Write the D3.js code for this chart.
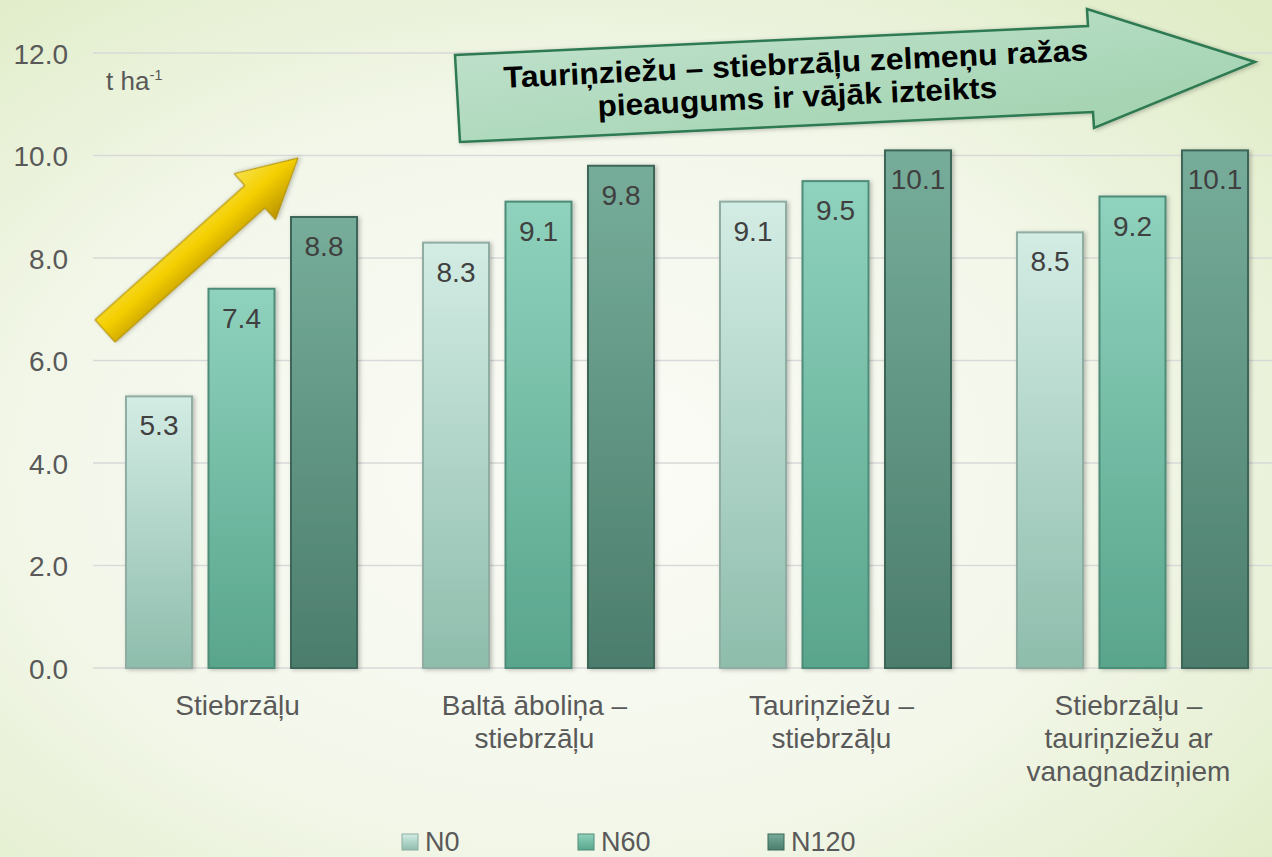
<!DOCTYPE html>
<html>
<head>
<meta charset="utf-8">
<script src="https://cdn.jsdelivr.net/npm/d3@7"></script>
<style>
  html, body { margin: 0; padding: 0; overflow: hidden; }
  svg { display: block; font-family: "Liberation Sans", Arial, sans-serif; }
</style>
</head>
<body>
<div id="chart"></div>
<script>
// chart data
const categories = [
    ['Stiebrzāļu'],
    ['Baltā āboliņa –', 'stiebrzāļu'],
    ['Tauriņziežu –', 'stiebrzāļu'],
    ['Stiebrzāļu –', 'tauriņziežu ar', 'vanagnadziņiem']
];
const seriesNames = ['N0', 'N60', 'N120'];
const n0 = [5.3, 8.3, 9.1, 8.5];
const n60 = [7.4, 9.1, 9.5, 9.2];
const n120 = [8.8, 9.8, 10.1, 10.1];
const yTicks = [0, 2, 4, 6, 8, 10, 12];
const unitLabel = 't ha';
const titleLines = ['Tauriņziežu – stiebrzāļu zelmeņu ražas', 'pieaugums ir vājāk izteikts'];

const W = 1272, H = 857;
const svg = d3.select('#chart').append('svg')
    .attr('width', W)
    .attr('height', H);

const defs = svg.append('defs');

// background
const bg = defs.append('radialGradient').attr('id', 'bg')
    .attr('cx', '45%').attr('cy', '55%').attr('r', '75%');
bg.append('stop').attr('offset', '0%').attr('stop-color', '#fbfcf7');
bg.append('stop').attr('offset', '55%').attr('stop-color', '#f3f7ea');
bg.append('stop').attr('offset', '100%').attr('stop-color', '#dfecc6');
svg.append('rect').attr('width', W).attr('height', H).attr('fill', 'url(#bg)');

// bar gradients
const barCols = [
    { top: '#d3ece4', bottom: '#8ebdac', stroke: '#8fada3' },
    { top: '#8fd2bd', bottom: '#59a58c', stroke: '#4e8c78' },
    { top: '#76ad9a', bottom: '#4c7d6c', stroke: '#3c6658' }
];
barCols.forEach((c, i) => {
    const g = defs.append('linearGradient').attr('id', 'bar' + i)
        .attr('x1', 0).attr('y1', 0).attr('x2', 0).attr('y2', 1);
    g.append('stop').attr('offset', '0%').attr('stop-color', c.top);
    g.append('stop').attr('offset', '100%').attr('stop-color', c.bottom);
});

const shadow = defs.append('filter').attr('id', 'shadow')
    .attr('x', '-20%').attr('y', '-20%').attr('width', '140%').attr('height', '140%');
shadow.append('feDropShadow').attr('dx', 2).attr('dy', 1).attr('stdDeviation', 2)
    .attr('flood-color', '#000').attr('flood-opacity', 0.25);

const margin = { top: 53, left: 93 };
const plotBottom = 668;
const plotRight = 1281;

const y = d3.scaleLinear().domain([0, 12]).range([plotBottom, margin.top]);
const x0 = d3.scaleBand().domain(d3.range(categories.length)).range([margin.left, plotRight]);
const x1 = d3.scaleBand().domain(seriesNames).range([0, 231]).paddingInner(0.2);
const groupOffset = (x0.bandwidth() - 231) / 2;

// grid
svg.append('g')
    .selectAll('line')
    .data(yTicks)
    .join('line')
    .attr('x1', margin.left).attr('x2', W)
    .attr('y1', d => y(d)).attr('y2', d => y(d))
    .attr('stroke', '#d9d9d9').attr('stroke-width', 1.5);

// y axis labels
const yAxis = svg.append('g')
    .attr('transform', `translate(${margin.left - 25},0)`)
    .call(d3.axisLeft(y).tickValues(yTicks).tickFormat(d3.format('.1f')).tickSize(0).tickPadding(0));
yAxis.select('.domain').remove();
yAxis.selectAll('text')
    .attr('font-size', 28)
    .attr('font-family', '"Liberation Sans", Arial, sans-serif')
    .attr('fill', '#595959')
    .attr('dy', '0.36em');

// unit label
const unit = svg.append('text')
    .attr('x', 106).attr('y', 90)
    .attr('font-size', 26).attr('fill', '#595959');
unit.append('tspan').text(unitLabel);
unit.append('tspan').attr('dy', -10).attr('font-size', 15).text('-1');

// bars
const series = [n0, n60, n120];
const groups = svg.append('g')
    .selectAll('g')
    .data(categories.map((c, i) => i))
    .join('g')
    .attr('transform', i => `translate(${x0(i) + groupOffset},0)`);

groups.selectAll('rect')
    .data(i => series.map((s, k) => ({ k, v: s[i] })))
    .join('rect')
    .attr('x', d => x1(seriesNames[d.k]))
    .attr('y', d => y(d.v))
    .attr('width', x1.bandwidth())
    .attr('height', d => plotBottom - y(d.v))
    .attr('fill', d => `url(#bar${d.k})`)
    .attr('stroke', d => barCols[d.k].stroke)
    .attr('stroke-width', 2)
    .attr('filter', 'url(#shadow)');

groups.selectAll('text')
    .data(i => series.map((s, k) => ({ k, v: s[i] })))
    .join('text')
    .attr('x', d => x1(seriesNames[d.k]) + x1.bandwidth() / 2)
    .attr('y', d => y(d.v) + 39)
    .attr('text-anchor', 'middle')
    .attr('font-size', 28)
    .attr('fill', '#404040')
    .text(d => d.v.toFixed(1));

// category labels
svg.append('g')
    .selectAll('text')
    .data(categories.map((c, i) => ({ lines: c, i })))
    .join('text')
    .attr('text-anchor', 'middle')
    .attr('font-size', 28)
    .attr('fill', '#595959')
    .each(function(d) {
        const t = d3.select(this);
        d.lines.forEach((l, j) => {
            t.append('tspan')
                .attr('x', x0(d.i) + x0.bandwidth() / 2 - 4)
                .attr('y', 715 + j * 33)
                .text(l);
        });
    });

// legend
const legendX = [402, 578, 768];
const leg = svg.append('g')
    .selectAll('g')
    .data(seriesNames)
    .join('g')
    .attr('transform', (d, i) => `translate(${legendX[i]},834)`);
leg.append('rect')
    .attr('width', 16).attr('height', 16)
    .attr('fill', (d, i) => `url(#bar${i})`)
    .attr('stroke', (d, i) => barCols[i].stroke);
leg.append('text')
    .attr('x', 23).attr('y', 17)
    .attr('font-size', 27)
    .attr('fill', '#595959')
    .text(d => d);

// yellow arrow
const gold = defs.append('linearGradient').attr('id', 'gold')
    .attr('x1', 0).attr('y1', 0).attr('x2', 0).attr('y2', 1);
gold.append('stop').attr('offset', '0%').attr('stop-color', '#f7e04a');
gold.append('stop').attr('offset', '45%').attr('stop-color', '#f4cf00');
gold.append('stop').attr('offset', '100%').attr('stop-color', '#b89200');
const tail = [105, 331], tip = [298, 158];
const ang = Math.atan2(tip[1] - tail[1], tip[0] - tail[0]) * 180 / Math.PI;
const len = Math.hypot(tip[0] - tail[0], tip[1] - tail[1]);
svg.append('path')
    .attr('transform', `translate(${tail[0]},${tail[1]}) rotate(${ang})`)
    .attr('d', `M0,-15 L${len - 58},-15 L${len - 58},-31 L${len},0 L${len - 58},31 L${len - 58},15 L0,15 Z`)
    .attr('fill', 'url(#gold)')
    .attr('stroke', '#a88600')
    .attr('stroke-width', 1)
    .attr('filter', 'url(#shadow)');

// big green arrow with text
const green = defs.append('linearGradient').attr('id', 'green')
    .attr('x1', 0).attr('y1', 0).attr('x2', 1).attr('y2', 1);
green.append('stop').attr('offset', '0%').attr('stop-color', '#c4e3d0');
green.append('stop').attr('offset', '60%').attr('stop-color', '#acd8ba');
green.append('stop').attr('offset', '100%').attr('stop-color', '#9fd0aa');
const arrowPts = [[455, 55], [1088, 26], [1087, 9], [1255, 62], [1094, 128], [1093, 112], [460, 142]];
svg.append('path')
    .attr('d', d3.line()(arrowPts) + 'Z')
    .attr('fill', 'url(#green)')
    .attr('stroke', '#2f7a52')
    .attr('stroke-width', 2.5)
    .attr('filter', 'url(#shadow)');

const title = svg.append('text')
    .attr('transform', 'rotate(-2.7,797,90)')
    .attr('text-anchor', 'middle')
    .attr('font-family', '"Liberation Sans Narrow", "Arial Narrow", "Liberation Sans", sans-serif')
    .attr('font-weight', 'bold')
    .attr('font-size', 30)
    .attr('fill', '#000');
title.append('tspan').attr('x', 797).attr('y', 74)
    .attr('textLength', 585).attr('lengthAdjust', 'spacingAndGlyphs')
    .text(titleLines[0]);
title.append('tspan').attr('x', 797).attr('y', 107)
    .attr('textLength', 400).attr('lengthAdjust', 'spacingAndGlyphs')
    .text(titleLines[1]);
</script>
</body>
</html>
